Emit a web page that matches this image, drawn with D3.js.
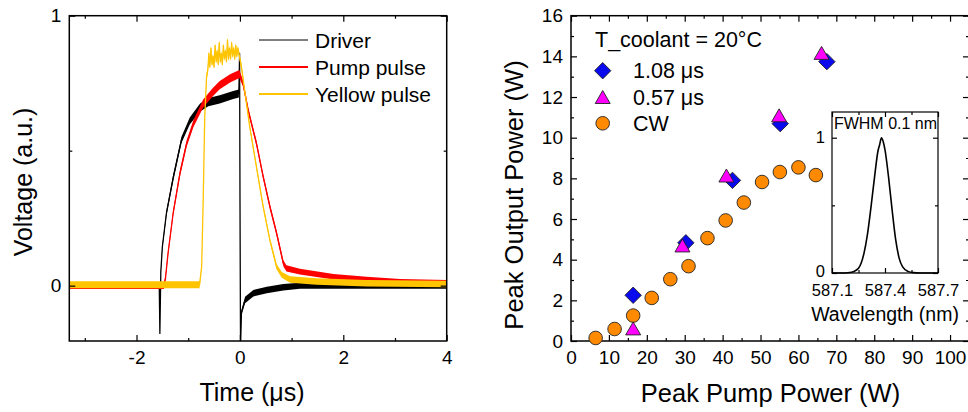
<!DOCTYPE html>
<html>
<head>
<meta charset="utf-8">
<script src="https://cdn.jsdelivr.net/npm/d3@7/dist/d3.min.js"></script>
<style>
  html, body { margin: 0; padding: 0; background: #fff; }
  svg { display: block; font-family: "Liberation Sans", Arial, sans-serif; }
</style>
</head>
<body>
<svg id="chart" width="968" height="412"></svg>
<script>
// ---- Left panel: oscilloscope traces, [time (us), voltage (a.u.), noise half-band] ----
const driverTrace = [
  [-3.3, 0.000, 0.012], [-1.56, 0.000, 0.012], [-1.548, -0.177, 0], [-1.53, 0.05, 0.004],
  [-1.50, 0.144, 0.008], [-1.42, 0.27, 0.01], [-1.29, 0.40, 0.012], [-1.13, 0.54, 0.012],
  [-0.97, 0.61, 0.013], [-0.77, 0.66, 0.015], [-0.61, 0.68, 0.015], [-0.39, 0.69, 0.015],
  [-0.13, 0.706, 0.015], [-0.02, 0.712, 0.015], [-0.006, 0.86, 0], [0.002, 0.30, 0],
  [0.012, -0.23, 0], [0.03, -0.10, 0.01], [0.10, -0.053, 0.012], [0.26, -0.028, 0.012],
  [0.52, -0.016, 0.012], [0.84, -0.006, 0.012], [1.16, 0.000, 0.011], [4.0, 0.000, 0.011]
];
const pumpTrace = [
  [-3.3, 0.000, 0.012], [-1.47, 0.000, 0.012], [-1.44, 0.027, 0.01], [-1.39, 0.12, 0.01],
  [-1.29, 0.27, 0.01], [-1.16, 0.416, 0.012], [-1.03, 0.527, 0.012], [-0.90, 0.60, 0.013],
  [-0.71, 0.675, 0.015], [-0.52, 0.718, 0.015], [-0.39, 0.743, 0.015], [-0.19, 0.768, 0.015],
  [-0.01, 0.784, 0.015], [0.06, 0.75, 0.012], [0.16, 0.65, 0.01], [0.32, 0.527, 0.01],
  [0.45, 0.404, 0.01], [0.58, 0.293, 0.01], [0.71, 0.194, 0.01], [0.84, 0.083, 0.011],
  [0.90, 0.064, 0.012], [1.16, 0.052, 0.011], [1.81, 0.033, 0.01], [2.45, 0.023, 0.01],
  [3.1, 0.015, 0.01], [4.0, 0.011, 0.01]
];
const yellowTrace = [
  [-3.3, 0.003, 0.013], [-0.78, 0.003, 0.013], [-0.74, 0.07, 0.005], [-0.71, 0.317, 0.005],
  [-0.68, 0.626, 0.008], [-0.645, 0.774, 0.012], [-0.62, 0.80, 0.012], [-0.60, 0.86, 0.01],
  [-0.58, 0.81, 0.01], [-0.56, 0.88, 0.01], [-0.54, 0.82, 0.01], [-0.52, 0.85, 0.01],
  [-0.50, 0.81, 0.01], [-0.48, 0.89, 0.01], [-0.46, 0.83, 0.01], [-0.44, 0.87, 0.01],
  [-0.42, 0.82, 0.01], [-0.40, 0.90, 0.01], [-0.38, 0.83, 0.01], [-0.36, 0.86, 0.01],
  [-0.34, 0.82, 0.01], [-0.32, 0.89, 0.01], [-0.30, 0.84, 0.01], [-0.28, 0.87, 0.01],
  [-0.26, 0.83, 0.01], [-0.24, 0.91, 0.01], [-0.22, 0.84, 0.01], [-0.20, 0.88, 0.01],
  [-0.18, 0.84, 0.01], [-0.16, 0.90, 0.01], [-0.14, 0.85, 0.01], [-0.12, 0.88, 0.01],
  [-0.10, 0.84, 0.01], [-0.08, 0.89, 0.01], [-0.06, 0.85, 0.01], [-0.04, 0.88, 0.01],
  [-0.02, 0.86, 0.01], [0.03, 0.81, 0.012], [0.10, 0.712, 0.008], [0.19, 0.589, 0.008],
  [0.32, 0.44, 0.008], [0.45, 0.293, 0.008], [0.58, 0.169, 0.008], [0.71, 0.07, 0.01],
  [0.81, 0.04, 0.011], [0.97, 0.023, 0.012], [1.48, 0.015, 0.012], [2.45, 0.009, 0.012],
  [4.0, 0.006, 0.012]
];
const traceSeries = [
  { name: "Driver", data: driverTrace, color: "#000000", legendWidth: 1 },
  { name: "Pump pulse", data: pumpTrace, color: "#ff0000", legendWidth: 2 },
  { name: "Yellow pulse", data: yellowTrace, color: "#ffc400", legendWidth: 2 }
];
const timeTicks = [-2, 0, 2, 4];
const timeMinorTicks = [-3, -1, 1, 3];
const voltageTicks = [0, 1];
const voltageMinorTicks = [0.5];

// ---- Right panel: peak output vs. peak pump power, [pump (W), output (W)] ----
const pulse108 = [[16.4, 2.25], [30.3, 4.83], [42.6, 7.90], [55.2, 10.69], [67.5, 13.74]];
const pulse057 = [[16.4, 0.62], [29.4, 4.70], [41.0, 8.14], [54.9, 11.10], [66.1, 14.17]];
const cwPoints = [
  [6.5, 0.15], [11.5, 0.59], [16.4, 1.25], [21.3, 2.12], [26.2, 3.04], [31.0, 3.68],
  [36.0, 5.06], [40.8, 5.93], [45.6, 6.81], [50.4, 7.82], [55.1, 8.31], [60.0, 8.54], [64.6, 8.16]
];
const pumpPowerTicks = [0, 10, 20, 30, 40, 50, 60, 70, 80, 90, 100];
const outputTicks = [0, 2, 4, 6, 8, 10, 12, 14, 16];
const legendTitle = "T_coolant = 20°C";

// ---- Inset: normalized emission spectrum, [wavelength (nm), intensity] ----
const spectrum = [
  [587.10, 0.000], [587.15, 0.000], [587.20, 0.004], [587.22, 0.010], [587.25, 0.035],
  [587.28, 0.14], [587.30, 0.28], [587.32, 0.48], [587.34, 0.70], [587.36, 0.90],
  [587.37, 0.95], [587.38, 1.00], [587.39, 0.97], [587.40, 0.91], [587.42, 0.71],
  [587.44, 0.47], [587.46, 0.25], [587.48, 0.11], [587.50, 0.045], [587.53, 0.012],
  [587.56, 0.003], [587.60, 0.000], [587.70, 0.000]
];
const wavelengthTicks = [587.1, 587.4, 587.7];
const wavelengthMinorTicks = [587.25, 587.55];
const intensityTicks = [0, 1];
const intensityMinorTicks = [0.5];

const svg = d3.select("#chart");
const MAJOR = 6, MINOR = 3;
const plain = d => String(d);

// Box frame with inward ticks on all four sides
function frame(g, x, y, opt) {
  const [x0, x1] = x.range(), [y0, y1] = y.range();
  const w = x1 - x0, h = y0 - y1;
  const major = opt.major || MAJOR, minor = opt.minor || MINOR;
  const bottom = g.append("g").attr("transform", `translate(0,${y0})`)
    .call(d3.axisBottom(x).tickValues(opt.xTicks).tickFormat(opt.xFormat || plain).tickSize(-major).tickPadding(opt.xPad));
  g.append("g").attr("transform", `translate(0,${y0})`)
    .call(d3.axisBottom(x).tickValues(opt.xMinor).tickFormat("").tickSize(-minor));
  g.append("g").attr("transform", `translate(0,${y1})`)
    .call(d3.axisTop(x).tickValues(opt.xTicks).tickFormat("").tickSize(-major));
  g.append("g").attr("transform", `translate(0,${y1})`)
    .call(d3.axisTop(x).tickValues(opt.xMinor).tickFormat("").tickSize(-minor));
  const left = g.append("g").attr("transform", `translate(${x0},0)`)
    .call(d3.axisLeft(y).tickValues(opt.yTicks).tickFormat(plain).tickSize(-major).tickPadding(opt.yPad));
  g.append("g").attr("transform", `translate(${x0},0)`)
    .call(d3.axisLeft(y).tickValues(opt.yMinor).tickFormat("").tickSize(-minor));
  g.append("g").attr("transform", `translate(${x1},0)`)
    .call(d3.axisRight(y).tickValues(opt.yTicks).tickFormat("").tickSize(-major));
  g.append("g").attr("transform", `translate(${x1},0)`)
    .call(d3.axisRight(y).tickValues(opt.yMinor).tickFormat("").tickSize(-minor));
  g.selectAll(".domain").remove();
  g.selectAll(".tick line").attr("stroke", "#000").attr("stroke-width", 1.2);
  g.selectAll(".tick text").attr("fill", "#000").attr("font-family", "Liberation Sans, Arial, sans-serif");
  bottom.selectAll(".tick text").attr("font-size", opt.fontSize);
  left.selectAll(".tick text").attr("font-size", opt.fontSize);
  g.append("rect").attr("x", x0).attr("y", y1).attr("width", w).attr("height", h)
    .attr("fill", "none").attr("stroke", "#000").attr("stroke-width", opt.frameWidth || 1.5);
}

// ================= Left panel =================
const xL = d3.scaleLinear([-3.3, 4], [69.3, 446.7]);
const yL = d3.scaleLinear([-0.205, 1], [341, 15.7]);
const gL = svg.append("g");
svg.append("defs").append("clipPath").attr("id", "clipL")
  .append("rect").attr("x", 69.3).attr("y", 15.7).attr("width", 377.4).attr("height", 325.3);

const plotL = gL.append("g").attr("clip-path", "url(#clipL)");
const band = d3.area().x(d => xL(d[0])).y0(d => yL(d[1] - d[2])).y1(d => yL(d[1] + d[2]));
const centre = d3.line().x(d => xL(d[0])).y(d => yL(d[1]));
traceSeries.forEach(s => {
  plotL.append("path").datum(s.data).attr("d", band).attr("fill", s.color);
  plotL.append("path").datum(s.data).attr("d", centre).attr("fill", "none")
    .attr("stroke", s.color).attr("stroke-width", 1.3).attr("stroke-linejoin", "round");
});

frame(gL, xL, yL, {
  xTicks: timeTicks, xMinor: timeMinorTicks, yTicks: voltageTicks, yMinor: voltageMinorTicks,
  xPad: 10, yPad: 8, fontSize: 19
});

// legend
const legL = gL.append("g");
traceSeries.forEach((s, i) => {
  const yy = 40 + i * 27;
  legL.append("line").attr("x1", 259).attr("x2", 308).attr("y1", yy).attr("y2", yy)
    .attr("stroke", s.color).attr("stroke-width", s.legendWidth);
  legL.append("text").attr("x", 315).attr("y", yy + 7.5).attr("font-size", 21).text(s.name);
});

gL.append("text").attr("x", 252).attr("y", 401).attr("text-anchor", "middle")
  .attr("font-size", 25).text("Time (μs)");
gL.append("text").attr("transform", "translate(32,182) rotate(-90)").attr("text-anchor", "middle")
  .attr("font-size", 25).text("Voltage (a.u.)");

// ================= Right panel =================
const xR = d3.scaleLinear([0, 105], [571, 969]);
const yR = d3.scaleLinear([0, 16], [341, 15.7]);
const gR = svg.append("g");

const minorX = d3.range(5, 105, 10);
const minorY = d3.range(1, 16, 2);
frame(gR, xR, yR, {
  xTicks: pumpPowerTicks, xMinor: minorX, yTicks: outputTicks, yMinor: minorY,
  xPad: 10, yPad: 8, fontSize: 19
});

// inset spectrum
const xI = d3.scaleLinear([587.1, 587.7], [832, 938]);
const yI = d3.scaleLinear([0, 1.19], [273, 112]);
const gI = gR.append("g");
gI.append("rect").attr("x", 832).attr("y", 112).attr("width", 106).attr("height", 161).attr("fill", "#fff");
gI.append("path").datum(spectrum)
  .attr("d", d3.line().x(d => xI(d[0])).y(d => yI(d[1])).curve(d3.curveMonotoneX))
  .attr("fill", "none").attr("stroke", "#000").attr("stroke-width", 1.6);
frame(gI, xI, yI, {
  xTicks: wavelengthTicks, xMinor: wavelengthMinorTicks, yTicks: intensityTicks, yMinor: intensityMinorTicks,
  xFormat: d3.format(".1f"), xPad: 11, yPad: 7, fontSize: 16.5, major: 5, minor: 3, frameWidth: 1.2
});
gI.selectAll(".tick text").filter(function () { return this.textContent === "0"; }).attr("dy", "0.2em");
gI.append("text").attr("x", 885.5).attr("y", 129).attr("text-anchor", "middle")
  .attr("font-size", 16).text("FWHM 0.1 nm");
gI.append("text").attr("x", 885).attr("y", 320.5).attr("text-anchor", "middle")
  .attr("font-size", 19.5).text("Wavelength (nm)");

// markers
function diamond(s) { return `M0,${-s}L${s},0L0,${s}L${-s},0Z`; }
function triangle(w, h) { return `M0,${-h / 2}L${w / 2},${h / 2}L${-w / 2},${h / 2}Z`; }
const markers = [
  { name: "CW", data: cwPoints, fill: "#ff8a00", draw: g => g.append("circle").attr("r", 6.8) },
  { name: "1.08 μs", data: pulse108, fill: "#0a0aee", draw: g => g.append("path").attr("d", diamond(8.2)) },
  { name: "0.57 μs", data: pulse057, fill: "#ff00ff", draw: g => g.append("path").attr("d", triangle(15, 13)) }
];
markers.forEach(m => {
  gR.append("g").selectAll("g").data(m.data).join("g")
    .attr("transform", d => `translate(${xR(d[0])},${yR(d[1])})`)
    .each(function () {
      m.draw(d3.select(this)).attr("fill", m.fill).attr("stroke", "#222").attr("stroke-width", 0.9);
    });
});

// legend
const legR = gR.append("g");
legR.append("text").attr("x", 595).attr("y", 47).attr("font-size", 21.5).text(legendTitle);
[markers[1], markers[2], markers[0]].forEach((m, i) => {
  const yy = 70.7 + i * 26.3;
  const g = legR.append("g").attr("transform", `translate(602.7,${yy})`);
  m.draw(g).attr("fill", m.fill).attr("stroke", "#222").attr("stroke-width", 0.9);
  legR.append("text").attr("x", 633).attr("y", yy + 7.6).attr("font-size", 21.5).text(m.name);
});

gR.append("text").attr("x", 770.5).attr("y", 401.5).attr("text-anchor", "middle")
  .attr("font-size", 25.5).text("Peak Pump Power (W)");
gR.append("text").attr("transform", "translate(523,195) rotate(-90)").attr("text-anchor", "middle")
  .attr("font-size", 25.5).text("Peak Output Power (W)");
</script>
</body>
</html>
